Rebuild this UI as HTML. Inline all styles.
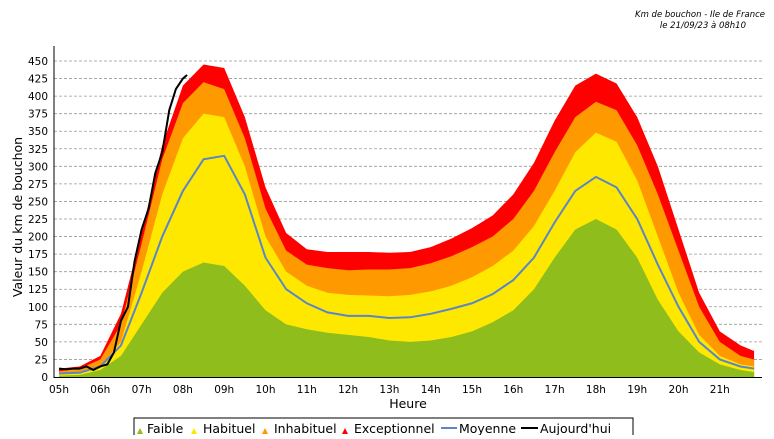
<!DOCTYPE html>
<html><head><meta charset="utf-8"><style>
body{margin:0;background:#fff;font-family:"DejaVu Sans","Liberation Sans",sans-serif}
svg text{font-family:"DejaVu Sans","Liberation Sans",sans-serif}
</style></head><body>
<svg id="chart" width="774" height="435" xmlns="http://www.w3.org/2000/svg">
<text x="765" y="17" font-size="8.5" font-style="italic" text-anchor="end">Km de bouchon - Ile de France</text>
<text x="746" y="28" font-size="8.5" font-style="italic" text-anchor="end">le 21/09/23 à 08h10</text>
<g id="grid"></g><g id="areas"></g><g id="lines"></g><g id="axes"></g>
<text transform="translate(22,217) rotate(-90)" font-size="12.5" text-anchor="middle">Valeur du  km de bouchon</text>
<text x="408" y="408" font-size="12.5" text-anchor="middle">Heure</text>
<g>
<rect x="134" y="418" width="499" height="20" fill="#fff" stroke="#000"/>
<path d="M137 434 l3 -6 l3 6z" fill="#8fbe1c"/><text x="147" y="433" font-size="12.5">Faible</text>
<path d="M191 434 l3 -6 l3 6z" fill="#ffe800"/><text x="203" y="433" font-size="12.5">Habituel</text>
<path d="M262 434 l3 -6 l3 6z" fill="#ff9900"/><text x="274" y="433" font-size="12.5">Inhabituel</text>
<path d="M342 434 l3 -6 l3 6z" fill="#ff0000"/><text x="354" y="433" font-size="12.5">Exceptionnel</text>
<line x1="441" y1="428" x2="457" y2="428" stroke="#5b86c6" stroke-width="2"/><text x="459" y="433" font-size="12.5">Moyenne</text>
<line x1="521" y1="428" x2="538" y2="428" stroke="#000" stroke-width="2"/><text x="540" y="433" font-size="12.5">Aujourd'hui</text>
</g>
</svg>
<script>
const times=[5,5.5,6,6.5,7,7.5,8,8.5,9,9.5,10,10.5,11,11.5,12,12.5,13,13.5,14,14.5,15,15.5,16,16.5,17,17.5,18,18.5,19,19.5,20,20.5,21,21.5,21.83];
const faible=[2,3,10,30,75,120,150,163,158,130,95,75,68,63,60,57,52,50,52,57,65,78,95,125,170,210,225,210,170,110,65,35,18,10,7];
const habituel=[5,7,15,50,150,260,340,375,370,300,200,150,130,120,117,116,115,117,122,130,142,158,180,215,265,320,348,335,280,200,120,60,30,18,15];
const inhabituel=[8,12,25,75,190,310,390,420,410,340,240,180,160,155,152,153,153,155,162,172,185,200,225,265,320,370,392,380,330,260,180,100,50,30,25];
const exceptionnel=[12,15,30,90,205,330,415,445,440,370,270,205,182,178,178,178,177,178,185,197,212,230,260,305,365,415,432,418,370,300,210,120,65,45,37];
const moyenne=[5,6,15,45,120,200,265,310,315,260,170,125,105,92,87,87,84,85,90,97,105,118,138,170,220,265,285,270,225,160,100,50,25,15,12];
const todayTimes=[5,5.17,5.33,5.5,5.67,5.83,6,6.17,6.33,6.5,6.67,6.83,7,7.17,7.33,7.5,7.67,7.83,8,8.1];
const today=[12,11,12,12,15,10,15,18,35,80,100,165,210,240,290,320,380,410,425,430];
const yTicks=[0,25,50,75,100,125,150,175,200,225,250,275,300,325,350,375,400,425,450];
const xTicks=['05h','06h','07h','08h','09h','10h','11h','12h','13h','14h','15h','16h','17h','18h','19h','20h','21h'];
const X=t=>59+(t-5)*41.3, Y=v=>377-v*(316/450);
const NS='http://www.w3.org/2000/svg';
function mk(p,tag,a){const e=document.createElementNS(NS,tag);for(const k in a)e.setAttribute(k,a[k]);document.getElementById(p).appendChild(e);return e;}
yTicks.forEach(v=>{
 if(v>0){const g=mk('grid','line',{x1:54,x2:762,y1:Y(v),y2:Y(v),stroke:'#999','stroke-dasharray':'3,2','stroke-width':0.8});
 
 }
 const t=mk('axes','text',{x:48,y:Y(v)+4,'font-size':10.5,'text-anchor':'end'});t.textContent=v;
 
 
});
xTicks.forEach((s,i)=>{const t=mk('axes','text',{x:X(5+i),y:393,'font-size':10.5,'text-anchor':'middle'});t.textContent=s;
 
 });
mk('axes','line',{x1:54,x2:54,y1:46,y2:378,stroke:'#000'});
mk('axes','line',{x1:54,x2:762,y1:377.5,y2:377.5,stroke:'#000'});
function area(vals,col,name){const d='M'+X(times[0])+','+Y(0)+times.map((t,i)=>'L'+X(t)+','+Y(vals[i])).join('')+'L'+X(times[times.length-1])+','+Y(0)+'Z';
 const p=mk('areas','path',{d:d,fill:col});
 
 }
area(exceptionnel,'#ff0000','area-exceptionnel');area(inhabituel,'#ff9900','area-inhabituel');area(habituel,'#ffe800','area-habituel');area(faible,'#8fbe1c','area-faible');
function line(ts,vals,col,name){const p=mk('lines','path',{d:ts.map((t,i)=>(i?'L':'M')+X(t)+','+Y(vals[i])).join(''),fill:'none',stroke:col,'stroke-width':2});
 
 }
line(times,moyenne,'#5b86c6','line-moyenne');line(todayTimes,today,'#000','line-aujourdhui');
</script>
</body></html>
